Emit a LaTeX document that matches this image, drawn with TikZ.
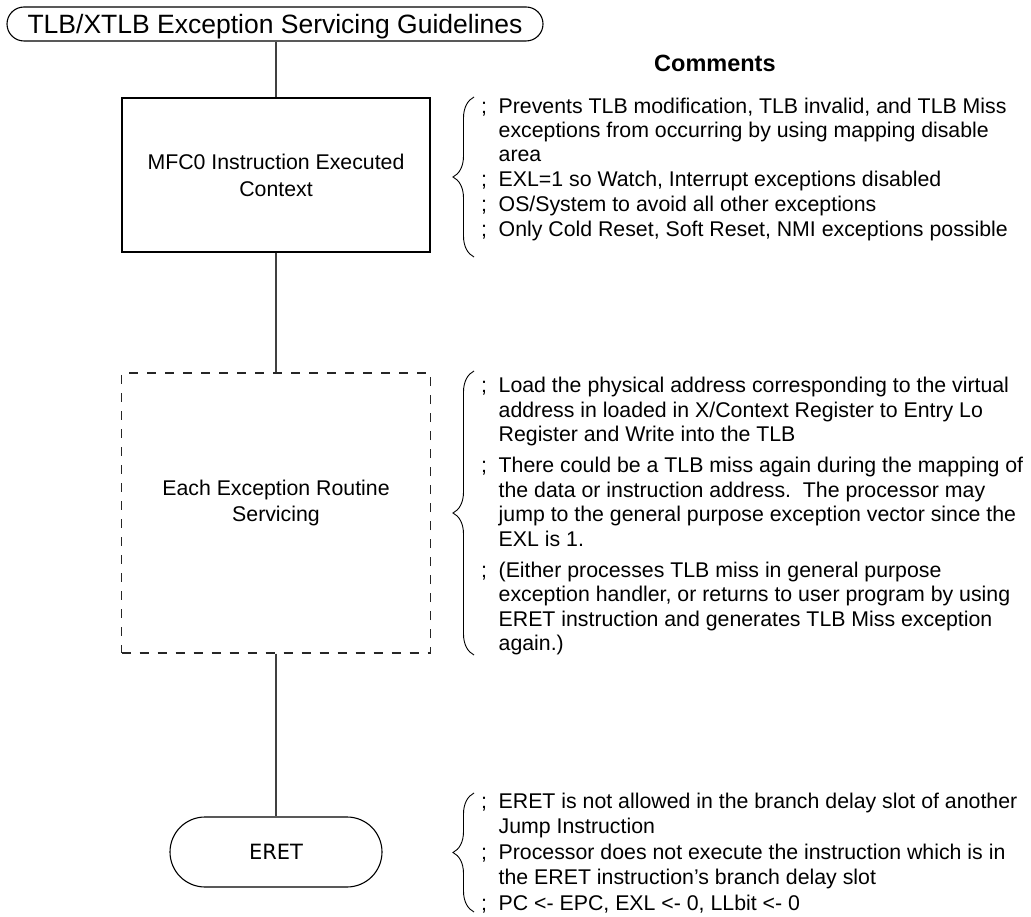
\documentclass[tikz,border=0pt]{standalone}
\usepackage{fontspec}
\setmainfont{Liberation Sans}
\newfontfamily\djvfont{DejaVu Sans}
\usetikzlibrary{decorations.pathreplacing}
\newcommand{\cmsemi}{\makebox[17.5pt][l]{;}}
\newcommand{\cmind}{\hspace*{17.5pt}}
\newcommand{\cmstrut}{\rule{0pt}{18pt}}
\begin{document}
\begin{tikzpicture}[x=1pt,y=-1pt,
  pillbox/.style={draw=black, line width=1.1pt, inner sep=0pt, align=center},
  solidbox/.style={draw=black, line width=1.1pt, inner sep=0pt, align=center,
    font=\fontsize{21.3}{27}\selectfont},
  dashbox/.style={draw=black!85, line width=1.1pt, dash pattern=on 9pt off 9pt, inner sep=0pt},
  boxlabel/.style={inner sep=0pt, align=center, font=\fontsize{21.3}{26}\selectfont},
  conn/.style={draw=black!75, line width=1.5pt},
  bracedraw/.style={draw=black, line width=0.9pt,
    decorate, decoration={brace, amplitude=21pt}},
  comment/.style={inner sep=0pt, anchor=north west, align=left,
    font=\fontsize{21.3}{24.5}\selectfont},
  header/.style={inner sep=0pt, anchor=west, font=\fontsize{23.5}{26}\selectfont\bfseries}
]
\useasboundingbox (0,0) rectangle (1031,917);
\fill[white] (0,0) rectangle (1031,917);

% flow nodes
\node[pillbox, rounded corners=17pt, minimum width=536pt, minimum height=34pt,
      text height=19pt, text depth=0pt, font=\fontsize{26.5}{30}\selectfont]
      (title) at (275,24) {TLB/XTLB Exception Servicing Guidelines};
\node[solidbox, minimum width=308pt, minimum height=154pt] (mfc) at (276,175)
      {MFC0 Instruction Executed\\Context};
\node[dashbox, minimum width=309pt, minimum height=280pt] (routine) at (276,513) {};
\node[boxlabel] (routinelbl) at (276,503) {Each Exception Routine\\Servicing};
\node[pillbox, rounded corners=35pt, minimum width=212pt, minimum height=70pt,
      text height=15.3pt, text depth=0pt, font=\djvfont\fontsize{21}{24}\selectfont]
      (eret) at (276,852) {ERET};

% connectors
\draw[conn] (title.south -| mfc.north) -- (mfc.north);
\draw[conn] (mfc.south) -- (routine.north);
\draw[conn] (routine.south) -- (eret.north);

% comments header
\node[header] (hdr) at (654,63) {Comments};

% braces
\coordinate (b1t) at (474,97);
\coordinate (b1b) at (474,257);
\coordinate (b2t) at (474,371);
\coordinate (b2b) at (474,655);
\coordinate (b3t) at (474,793);
\coordinate (b3b) at (474,912);
\draw[bracedraw] (b1b) -- (b1t);
\draw[bracedraw] (b2b) -- (b2t);
\draw[bracedraw] (b3b) -- (b3t);

% comment texts
\node[comment, font=\fontsize{21.3}{24}\selectfont] (c1) at (481,95.6) {%
\cmstrut\cmsemi Prevents TLB modification, TLB invalid, and TLB Miss\\
\cmind exceptions from occurring by using mapping disable\\
\cmind area\\[1pt]
\cmsemi EXL=1 so Watch, Interrupt exceptions disabled\\[1pt]
\cmsemi OS/System to avoid all other exceptions\\[1pt]
\cmsemi Only Cold Reset, Soft Reset, NMI exceptions possible};

\node[comment] (c2) at (481,374.6) {%
\cmstrut\cmsemi Load the physical address corresponding to the virtual\\
\cmind address in loaded in X/Context Register to Entry Lo\\
\cmind Register and Write into the TLB\\[6.5pt]
\cmsemi There could be a TLB miss again during the mapping of\\
\cmind the data or instruction address.\ \ The processor may\\
\cmind jump to the general purpose exception vector since the\\
\cmind EXL is 1.\\[6.5pt]
\cmsemi (Either processes TLB miss in general purpose\\
\cmind exception handler, or returns to user program by using\\
\cmind ERET instruction and generates TLB Miss exception\\
\cmind again.)};

\node[comment] (c3) at (481,790.6) {%
\cmstrut\cmsemi ERET is not allowed in the branch delay slot of another\\
\cmind Jump Instruction\\[2pt]
\cmsemi Processor does not execute the instruction which is in\\
\cmind the ERET instruction’s branch delay slot\\[2pt]
\cmsemi PC <- EPC, EXL <- 0, LLbit <- 0};
\end{tikzpicture}
\end{document}
